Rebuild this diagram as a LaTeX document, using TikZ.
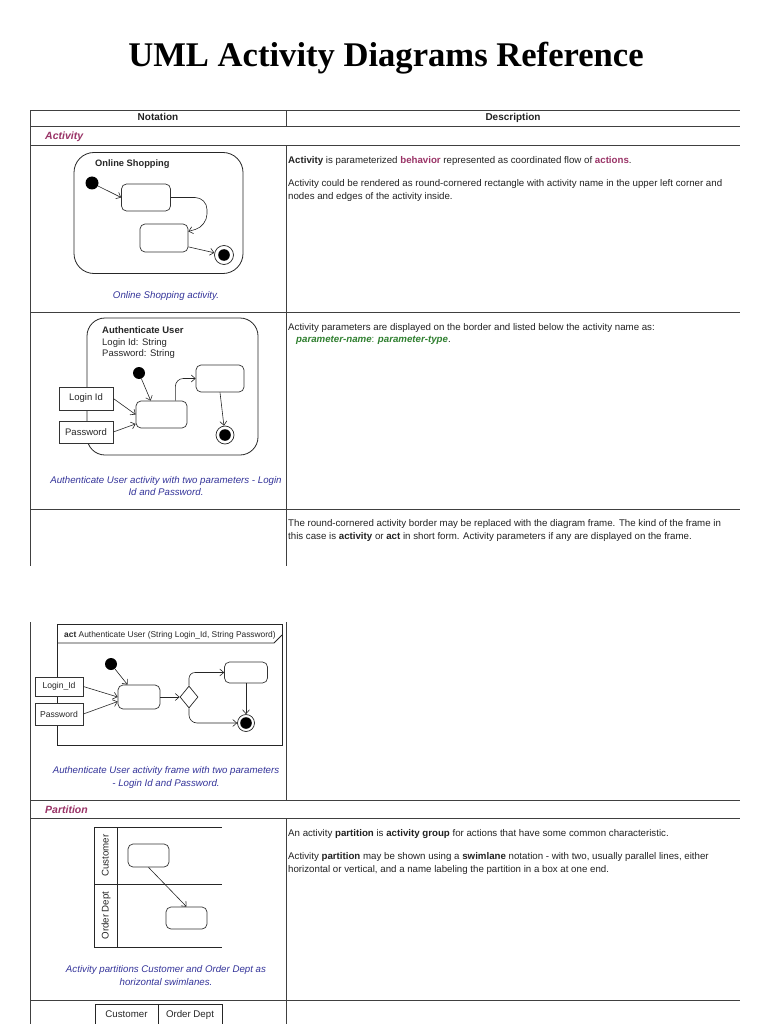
\documentclass[tikz,border=0pt]{standalone}
\usepackage{fontspec}
\setmainfont{Liberation Sans}
\newfontfamily\titlefont{Liberation Serif}
\usetikzlibrary{arrows.meta,calc,shapes.geometric}
\definecolor{purp}{HTML}{993366}
\definecolor{navy}{HTML}{333399}
\definecolor{grn}{HTML}{2F7F2F}
\definecolor{txt}{HTML}{222222}
\begin{document}
\begin{tikzpicture}[x=1pt,y=-1pt,
  tline/.style={line width=1pt, draw=black!75},
  body/.style={anchor=base west, inner sep=0pt, font=\fontsize{9.7}{11}\selectfont, text=txt},
  hdr/.style={inner sep=0pt, text height=7.2pt, text depth=2pt, font=\fontsize{10}{11}\selectfont\bfseries, text=txt},
  capt/.style={align=center, inner sep=0pt, font=\fontsize{9.7}{12.8}\selectfont\itshape, text=navy},
  sect/.style={anchor=base west, inner sep=0pt, font=\fontsize{10.5}{11}\selectfont\bfseries\itshape, text=purp},
  dtext/.style={anchor=base west, inner sep=0pt, font=\fontsize{9.5}{11}\selectfont, text=black!85},
  actbox/.style={draw=black!80, rounded corners=5pt, line width=0.7pt, inner sep=0pt, fill=white},
  actframe/.style={draw=black!85, line width=0.8pt, inner sep=0pt},
  param/.style={draw=black!80, line width=0.7pt, fill=white, inner sep=0pt, font=\fontsize{9.5}{11}\selectfont, text=black!85},
  initial/.style={circle, fill=black, inner sep=0pt},
  final/.style={circle, draw=black!85, line width=0.7pt, inner sep=0pt, fill=white,
     path picture={\fill[black] (path picture bounding box.center) circle (5.8pt);}},
  flow/.style={draw=black!85, line width=0.6pt, -{Straight Barb[length=4pt,width=7pt]}},
  lane/.style={draw=black!85, line width=0.8pt},
  lanetext/.style={inner sep=0pt, text height=7pt, text depth=2pt, font=\fontsize{9.7}{11}\selectfont, text=black!85},
]
\useasboundingbox (0,0) rectangle (768,1024);

% ---------- title ----------
\node[inner sep=0pt, font=\titlefont\bfseries\fontsize{34.6}{40}\selectfont] (title) at (386,58) {UML Activity Diagrams Reference};

% ---------- table lines ----------
\foreach \yy in {111,127,146,312,509,800,818,1000}
  \draw[tline] (30,\yy) -- (740,\yy);
\draw[tline] (30,111) -- (30,566);
\draw[tline] (30,622) -- (30,1024);
\draw[tline] (286,111) -- (286,127);
\draw[tline] (286,146) -- (286,566);
\draw[tline] (286,622) -- (286,800);
\draw[tline] (286,818) -- (286,1024);

% ---------- header ----------
\node[hdr] (hnot) at (158,118) {Notation};
\node[hdr] (hdesc) at (513,118) {Description};
\node[sect] (sact) at (45,140) {Activity};
\node[sect] (spart) at (45,813) {Partition};

% ---------- row 1 ----------
\node[draw=black!85, line width=0.8pt, rounded corners=20pt, minimum width=169pt, minimum height=121pt, inner sep=0pt] (os) at (158.5,213) {};
\node[dtext, font=\fontsize{9.3}{11}\selectfont\bfseries] (osname) at (95,166.5) {Online Shopping};
\node[initial, minimum size=13pt] (i1) at (92,183) {};
\node[actbox, minimum width=49pt, minimum height=27pt] (a1) at (146,197.5) {};
\node[actbox, minimum width=48pt, minimum height=28pt] (a2) at (164,238) {};
\node[final, minimum size=19pt] (f1) at (224,255) {};
\draw[flow] (i1) -- (a1.west);
\draw[flow, rounded corners=12pt] (a1.east) -- (207,197.5) -- (207,226) -- (a2.15);
\draw[flow] (a2.-20) -- (f1);
\node[capt] (c1) at (166,296) {Online Shopping activity.};

\node[body] (d1a) at (288,163.5) {\textbf{Activity} is parameterized \textcolor{purp}{\textbf{behavior}} represented as coordinated flow of \textcolor{purp}{\textbf{actions}}.};
\node[body] (d1b) at (288,186.5) {Activity could be rendered as round-cornered rectangle with activity name in the upper left corner and};
\node[body] (d1c) at (288,199.5) {nodes and edges of the activity inside.};

% ---------- row 2 ----------
\node[draw=black!85, line width=0.8pt, rounded corners=18pt, minimum width=171pt, minimum height=137pt, inner sep=0pt] (au) at (172.5,386.5) {};
\node[dtext, font=\fontsize{9.5}{11}\selectfont\bfseries] (auname) at (102,333.5) {Authenticate User};
\node[dtext] (aup1) at (102,345) {Login Id: String};
\node[dtext] (aup2) at (102,356.5) {Password: String};
\node[param, minimum width=54pt, minimum height=23pt] (login) at (86,398.5) {Login Id};
\node[param, minimum width=54pt, minimum height=22pt] (pass) at (86,432) {Password};
\node[initial, minimum size=12pt] (i2) at (139,373) {};
\node[actbox, minimum width=51pt, minimum height=27pt] (a3) at (161.5,414.5) {};
\node[actbox, minimum width=48pt, minimum height=27pt] (a4) at (220,378.5) {};
\node[final, minimum size=18pt] (f2) at (225,435) {};
\draw[flow] (i2) -- (a3.128);
\draw[flow] (login.east) -- (a3.west);
\draw[flow] (pass.east) -- (a3.200);
\draw[flow, rounded corners=8pt] ($(a3.north east)+(-12,0)$) |- (a4.west);
\draw[flow] (a4.south) -- (f2);
\node[capt] (c2) at (166,486) {Authenticate User activity with two parameters - Login\\Id and Password.};

\node[body] (d2a) at (288,330.5) {Activity parameters are displayed on the border and listed below the activity name as:};
\node[body] (d2b) at (296,342.5) {\textcolor{grn}{\textbf{\itshape parameter-name}: \textbf{\itshape parameter-type}}.};

% ---------- row 3 ----------
\node[body] (d3a) at (288,526) {The round-cornered activity border may be replaced with the diagram frame. The kind of the frame in};
\node[body] (d3b) at (288,539) {this case is \textbf{activity} or \textbf{act} in short form. Activity parameters if any are displayed on the frame.};

\draw[actframe] (57,624) rectangle (282,745);
\draw[actframe] (57,643) -- (274,643) -- (282,635);
\node[dtext, font=\fontsize{8.4}{9}\selectfont] (actname) at (64,637) {\textbf{act} Authenticate User (String Login\_Id, String Password)};
\node[param, minimum width=48pt, minimum height=19pt, font=\fontsize{8.6}{9}\selectfont] (login2) at (59,686.5) {Login\_Id};
\node[param, minimum width=48pt, minimum height=22pt, font=\fontsize{8.6}{9}\selectfont] (pass2) at (59,714) {Password};
\node[initial, minimum size=12pt] (i3) at (111,664) {};
\node[actbox, minimum width=42pt, minimum height=24pt] (a5) at (139,697) {};
\node[diamond, draw=black!85, line width=0.7pt, minimum width=18pt, minimum height=22pt, inner sep=0pt] (dd) at (189,697) {};
\node[actbox, minimum width=43pt, minimum height=21pt] (a6) at (246,672.5) {};
\node[final, minimum size=17pt] (f3) at (246,723) {};
\draw[flow] (i3) -- (a5.133);
\draw[flow] (login2.east) -- (a5.west);
\draw[flow] (pass2.east) -- (a5.192);
\draw[flow] (a5.east) -- (dd.west);
\draw[flow, rounded corners=6pt] (dd.north) |- (a6.west);
\draw[flow, rounded corners=8pt] (dd.south) |- (f3.west);
\draw[flow] (a6.south) -- (f3.north);
\node[capt] (c3) at (166,777.5) {Authenticate User activity frame with two parameters\\- Login Id and Password.};

% ---------- row 4 ----------
\draw[lane] (94,827) -- (222,827);
\draw[lane] (94,884) -- (222,884);
\draw[lane] (94,947) -- (222,947);
\draw[lane] (94,827) -- (94,947);
\draw[lane] (117,827) -- (117,947);
\node[lanetext, rotate=90] (lcust) at (106,855.5) {Customer};
\node[lanetext, rotate=90] (lord) at (106,915.5) {Order Dept};
\node[actbox, minimum width=41pt, minimum height=23pt] (a7) at (148.5,855.5) {};
\node[actbox, minimum width=41pt, minimum height=22pt] (a8) at (186.5,918) {};
\draw[flow] (a7.south) -- (a8.north);
\node[capt] (c4) at (166,975.5) {Activity partitions Customer and Order Dept as\\horizontal swimlanes.};

\node[body] (d4a) at (288,836.5) {An activity \textbf{partition} is \textbf{activity group} for actions that have some common characteristic.};
\node[body] (d4b) at (288,859.5) {Activity \textbf{partition} may be shown using a \textbf{swimlane} notation - with two, usually parallel lines, either};
\node[body] (d4c) at (288,872.5) {horizontal or vertical, and a name labeling the partition in a box at one end.};

% ---------- row 5 ----------
\draw[lane] (95,1030) |- (222,1004) -- (222,1030);
\draw[lane] (158,1004) -- (158,1030);
\node[lanetext] (vcust) at (126.5,1015) {Customer};
\node[lanetext] (vord) at (190,1015) {Order Dept};
\end{tikzpicture}
\end{document}
